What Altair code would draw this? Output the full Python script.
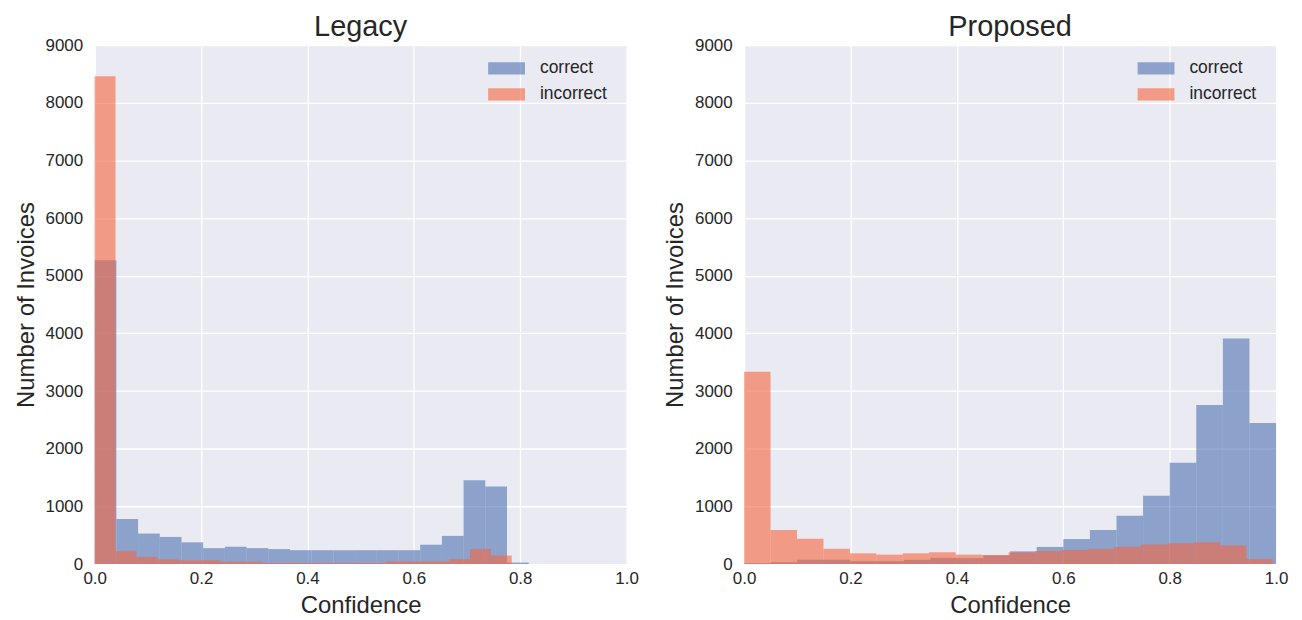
import altair as alt
import pandas as pd

FONT = "Liberation Sans"
TEXT = "#262626"

PANELS = ["Legacy", "Proposed"]
SERIES = ["correct", "incorrect"]
COLORS = ["#4C72B0", "#F5663F"]

# Each series is a 20-bin histogram spanning (min, max) of its confidences
N_BINS = 20
LEGACY_CORRECT_RANGE = (0.0, 0.816)
LEGACY_INCORRECT_RANGE = (0.0, 0.784)
PROPOSED_CORRECT_RANGE = (0.0, 1.0)
PROPOSED_INCORRECT_RANGE = (0.0, 0.994)

# Counts per bin
LEGACY_CORRECT = [5270, 782, 529, 470, 376, 276, 300, 276, 259, 240,
                  240, 240, 240, 240, 240, 335, 488, 1455, 1345, 25]
LEGACY_INCORRECT = [8460, 224, 124, 82, 65, 65, 41, 41, 20, 20,
                    20, 20, 20, 20, 46, 46, 46, 84, 262, 148]
PROPOSED_CORRECT = [15, 32, 73, 73, 50, 50, 73, 108, 102, 150,
                    220, 297, 433, 590, 837, 1186, 1755, 2758, 3912, 2445]
PROPOSED_INCORRECT = [3335, 590, 440, 265, 186, 163, 186, 204, 163, 158,
                      200, 226, 244, 262, 300, 337, 360, 378, 323, 87]

X_TICKS = [0.0, 0.2, 0.4, 0.6, 0.8, 1.0]
Y_TICKS = [0, 1000, 2000, 3000, 4000, 5000, 6000, 7000, 8000, 9000]

HISTS = {
    ("Legacy", "correct"): (LEGACY_CORRECT_RANGE, LEGACY_CORRECT),
    ("Legacy", "incorrect"): (LEGACY_INCORRECT_RANGE, LEGACY_INCORRECT),
    ("Proposed", "correct"): (PROPOSED_CORRECT_RANGE, PROPOSED_CORRECT),
    ("Proposed", "incorrect"): (PROPOSED_INCORRECT_RANGE, PROPOSED_INCORRECT),
}

rows = []
for (panel, series), ((lo, hi), counts) in HISTS.items():
    w = (hi - lo) / N_BINS
    for i, c in enumerate(counts):
        rows.append({"panel": panel, "series": series,
                     "x0": lo + i * w, "x1": lo + (i + 1) * w, "count": c})
df = pd.DataFrame(rows)


def make_panel(name):
    layers = []
    for s in SERIES:
        d = df[(df.panel == name) & (df.series == s)]
        layers.append(
            alt.Chart(d).mark_rect(opacity=0.6, strokeWidth=0).encode(
                x=alt.X("x0:Q",
                        scale=alt.Scale(domain=[0, 1], nice=False, zero=False),
                        axis=alt.Axis(values=X_TICKS, format=".1f", title="Confidence",
                                      labelFlush=False, labelPadding=7, titlePadding=7)),
                x2="x1:Q",
                y=alt.Y("count:Q",
                        scale=alt.Scale(domain=[0, 9000], nice=False),
                        axis=alt.Axis(values=Y_TICKS, format="d", title="Number of Invoices",
                                      labelFlush=False, labelPadding=12, titlePadding=7)),
                y2=alt.datum(0),
                color=alt.Color("series:N",
                                scale=alt.Scale(domain=SERIES, range=COLORS),
                                legend=alt.Legend(
                                    title=None, orient="none", legendX=401, legendY=11,
                                    symbolType="M-1.5,-0.5L1.5,-0.5L1.5,0.5L-1.5,0.5Z",
                                    symbolSize=608, symbolOpacity=0.6, symbolStrokeWidth=0,
                                    labelFontSize=17.5, labelFont=FONT, labelColor=TEXT,
                                    labelOffset=21, rowPadding=5, padding=0)),
            )
        )
    return alt.layer(*layers).properties(
        width=534, height=521,
        title=alt.Title(name, fontSize=29, font=FONT, color=TEXT, fontWeight="normal",
                        anchor="middle", offset=-6),
    )


chart = alt.hconcat(
    make_panel("Legacy"), make_panel("Proposed"), spacing=118, bounds="flush"
).resolve_scale(color="independent").resolve_legend(color="independent").properties(
    padding={"left": 5, "top": 3, "right": 5, "bottom": 5}
).configure_view(
    fill="#EAEAF2", stroke="transparent"
).configure_axis(
    domain=False, ticks=False, grid=True, gridColor="white", gridWidth=1.3,
    labelFont=FONT, labelFontSize=17, labelColor=TEXT,
    titleFont=FONT, titleFontSize=24, titleColor=TEXT, titleFontWeight="normal",
)

chart.save("out.html", embed_options={"renderer": "svg", "actions": False})
